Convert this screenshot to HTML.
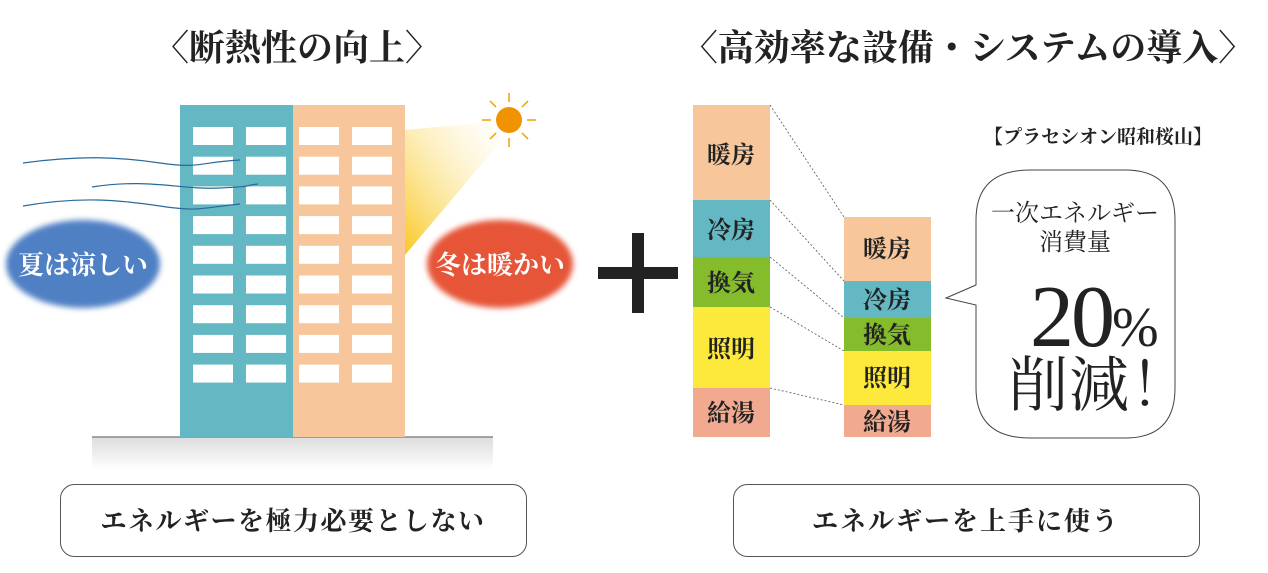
<!DOCTYPE html>
<html><head><meta charset="utf-8"><style>
body{margin:0;background:#fff;width:1268px;height:568px;overflow:hidden}
svg text{font-family:"Liberation Serif","Noto Serif CJK SC",serif}
</style></head><body>
<svg width="1268" height="568" viewBox="0 0 1268 568" xmlns="http://www.w3.org/2000/svg">
<defs>
<linearGradient id="gnd" x1="0" y1="0" x2="0" y2="1"><stop offset="0" stop-color="#ddd"/><stop offset="1" stop-color="#fff"/></linearGradient>
<linearGradient id="beam" x1="0" y1="1" x2="1" y2="0"><stop offset="0" stop-color="#f8c820"/><stop offset="1" stop-color="#fff" stop-opacity="0.3"/></linearGradient>
<filter id="bl"><feGaussianBlur stdDeviation="3"/></filter>
</defs>
<text x="297" y="60" font-size="36" text-anchor="middle" fill="#222" font-weight="bold">〈断熱性の向上〉</text>
<text x="968" y="60" font-size="36" text-anchor="middle" fill="#222" font-weight="bold">〈高効率な設備・システムの導入〉</text>
<rect x="92" y="437" width="401" height="33" fill="url(#gnd)"/>
<line x1="92" y1="437" x2="493" y2="437" stroke="#888" stroke-width="1.5"/>
<polygon points="405,130 490,122 502,140 405,255" fill="url(#beam)"/>
<rect x="180" y="105" width="113" height="332" fill="#63b8c4"/>
<rect x="293" y="105" width="112" height="332" fill="#f7c79b"/>
<g fill="#fff">
<g id="row"><rect x="193" y="127" width="40" height="18"/><rect x="246" y="127" width="40" height="18"/><rect x="299" y="127" width="40" height="18"/><rect x="352" y="127" width="40" height="18"/></g>
<use href="#row" y="29.7"/><use href="#row" y="59.4"/><use href="#row" y="89.1"/><use href="#row" y="118.8"/><use href="#row" y="148.5"/><use href="#row" y="178.2"/><use href="#row" y="207.9"/><use href="#row" y="237.6"/>
</g>
<g fill="none" stroke="#2a6a9a" stroke-width="1.2">
<path d="M23,163 C80,155 120,157 160,163 S200,162 240,160"/>
<path d="M92,187 C150,178 180,190 220,188 S240,186 258,184"/>
<path d="M23,206 C80,196 120,200 160,206 S200,208 240,204"/>
</g>
<g stroke="#f0a000" stroke-width="1.5">
<line x1="509" y1="93" x2="509" y2="102"/><line x1="509" y1="138" x2="509" y2="147"/>
<line x1="482" y1="120" x2="491" y2="120"/><line x1="527" y1="120" x2="536" y2="120"/>
<line x1="490" y1="101" x2="496" y2="107"/><line x1="522" y1="133" x2="528" y2="139"/>
<line x1="528" y1="101" x2="522" y2="107"/><line x1="496" y1="133" x2="490" y2="139"/>
</g>
<circle cx="509" cy="120" r="13" fill="#ef9400"/>
<ellipse cx="83" cy="264" rx="77" ry="44" fill="#4f80c4" filter="url(#bl)"/>
<text x="83" y="274" font-size="26" fill="#fff" text-anchor="middle" font-weight="bold">夏は涼しい</text>
<ellipse cx="500" cy="264" rx="73" ry="44" fill="#e65538" filter="url(#bl)"/>
<text x="500" y="274" font-size="26" fill="#fff" text-anchor="middle" font-weight="bold">冬は暖かい</text>
<rect x="632" y="233" width="12" height="80" fill="#222"/>
<rect x="598" y="267" width="80" height="12" fill="#222"/>
<g font-size="24" fill="#222" text-anchor="middle" font-weight="bold">
<rect x="693" y="105" width="77" height="95" fill="#f7c79b"/><text x="731" y="163">暖房</text>
<rect x="693" y="200" width="77" height="57" fill="#63b8c4"/><text x="731" y="238">冷房</text>
<rect x="693" y="257" width="77" height="50" fill="#84bc2c"/><text x="731" y="291">換気</text>
<rect x="693" y="307" width="77" height="81" fill="#fde83c"/><text x="731" y="357">照明</text>
<rect x="693" y="388" width="77" height="49" fill="#f1a990"/><text x="731" y="421">給湯</text>
<rect x="844" y="217" width="87" height="64" fill="#f7c79b"/><text x="887" y="257">暖房</text>
<rect x="844" y="281" width="87" height="37" fill="#63b8c4"/><text x="887" y="308">冷房</text>
<rect x="844" y="318" width="87" height="33" fill="#84bc2c"/><text x="887" y="343">換気</text>
<rect x="844" y="351" width="87" height="54" fill="#fde83c"/><text x="887" y="386">照明</text>
<rect x="844" y="405" width="87" height="32" fill="#f1a990"/><text x="887" y="430">給湯</text>
</g>
<g stroke="#555" stroke-width="0.8" stroke-dasharray="2,2">
<line x1="770" y1="105" x2="844" y2="217"/><line x1="770" y1="200" x2="844" y2="281"/>
<line x1="770" y1="257" x2="844" y2="318"/><line x1="770" y1="307" x2="844" y2="351"/>
<line x1="770" y1="388" x2="844" y2="405"/>
</g>
<text x="1098" y="143" font-size="19" text-anchor="middle" fill="#222" font-weight="bold">【プラセシオン昭和桜山】</text>
<path d="M1030,170 H1125 Q1175,170 1175,220 V388 Q1175,438 1125,438 H1030 Q976,438 976,388 V305 L946,298 L976,285 V220 Q976,170 1030,170 Z" fill="#fff" stroke="#444" stroke-width="1"/>
<g fill="#222">
<text x="1075" y="221" font-size="24" text-anchor="middle">一次エネルギー</text>
<text x="1075" y="250" font-size="24" text-anchor="middle">消費量</text>
<text x="1030" y="346" font-size="88" letter-spacing="-3">20<tspan font-size="56">%</tspan></text>
<text x="1008" y="406" font-size="60" letter-spacing="1">削減！</text>
</g>
<rect x="60.5" y="484.5" width="466" height="72" rx="14" fill="#fff" stroke="#555"/>
<text x="293" y="530" font-size="26" text-anchor="middle" fill="#222" font-weight="bold" letter-spacing="1.5">エネルギーを極力必要としない</text>
<rect x="733.5" y="484.5" width="466" height="72" rx="14" fill="#fff" stroke="#555"/>
<text x="966" y="530" font-size="26" text-anchor="middle" fill="#222" font-weight="bold" letter-spacing="2">エネルギーを上手に使う</text>
</svg>
</body></html>
